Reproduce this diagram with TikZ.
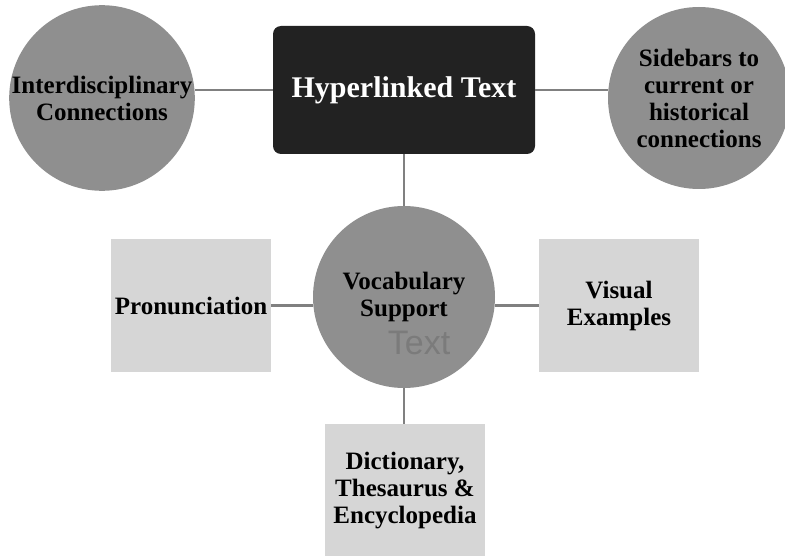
\documentclass[tikz,border=0pt]{standalone}
\usepackage{fontspec}
\setmainfont{Liberation Serif}
\newfontfamily\ghostfont{Liberation Sans}
\definecolor{bubblegray}{HTML}{8F8F8F}
\definecolor{tilegray}{HTML}{D6D6D6}
\definecolor{hubblack}{HTML}{222222}
\definecolor{linkgray}{HTML}{808080}
\definecolor{ghostgray}{HTML}{7B7B7B}
\tikzset{
  bubble/.style={circle, fill=bubblegray, minimum size=182pt, inner sep=0pt, align=center,
    font=\fontsize{25pt}{27pt}\selectfont\bfseries},
  tile/.style={rectangle, fill=tilegray, minimum width=160pt, minimum height=133pt, inner sep=0pt,
    align=center, font=\fontsize{25pt}{27pt}\selectfont\bfseries},
  link/.style={draw=linkgray, line width=2.7pt}
}
\begin{document}
\begin{tikzpicture}[x=1pt, y=-1pt]
    \useasboundingbox[fill=white] (0, 0) rectangle (785, 556);

    % Hub
    \node[rectangle, rounded corners=8pt, fill=hubblack, text=white, minimum width=262pt, minimum height=128pt,
        font=\fontsize{30pt}{34pt}\selectfont\bfseries] (hyper) at (404, 90) {Hyperlinked Text};

    % Top circles
    \node[bubble] (interd) at (102, 98) {Interdisciplinary\\Connections};
    \node[bubble] (sidebars) at (699, 98) {Sidebars to\\current or\\historical\\connections};

    % Vocabulary circle and its boxes
    \node[bubble] (vocab) at (404, 297) {Vocabulary\\Support};
    \node[font=\ghostfont\fontsize{34pt}{38pt}\selectfont, text=ghostgray] (ghost) at (419, 343) {Text};
    \node[tile] (pron) at (191, 305.5) {Pronunciation};
    \node[tile] (visual) at (619, 305.5) {Visual\\Examples};
    \node[tile] (dict) at (405, 490.5) {Dictionary,\\Thesaurus \&\\Encyclopedia};

    % Connectors
    \draw[link] (interd.5) -- (interd.5 -| hyper.west);
    \draw[link] (sidebars.175) -- (sidebars.175 -| hyper.east);
    \draw[link] (hyper.south) -- (vocab.north);
    \draw[link] (pron.east) -- (pron.east -| vocab.west);
    \draw[link] (visual.west) -- (visual.west -| vocab.east);
    \draw[link] (vocab.south) -- (vocab.south |- dict.north);
\end{tikzpicture}
\end{document}
